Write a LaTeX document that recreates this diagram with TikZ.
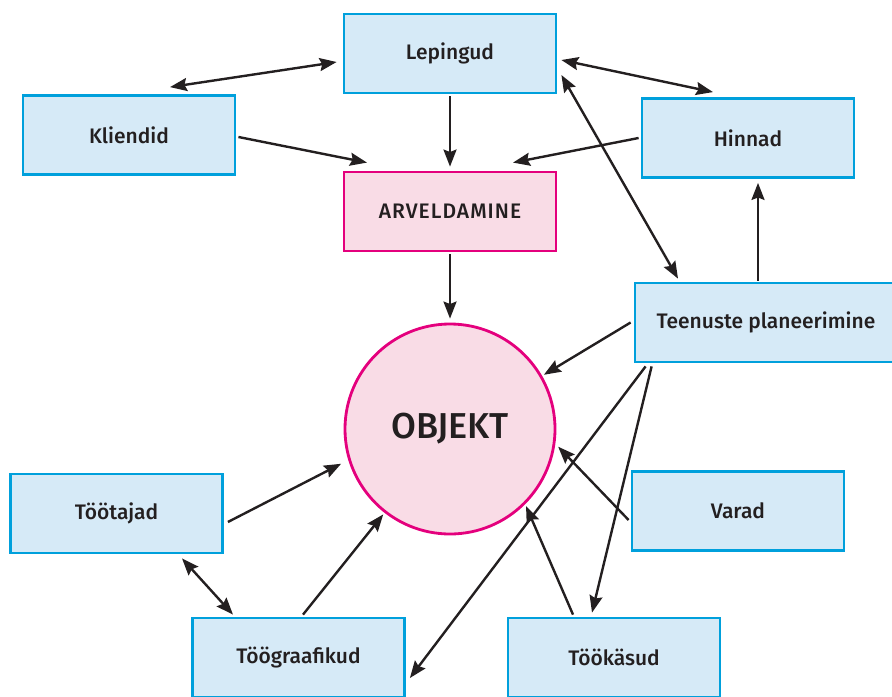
\documentclass[tikz,border=0pt]{standalone}
\usepackage{fontspec}
\setmainfont{Fira Sans}[UprightFont=* Medium]
\usetikzlibrary{arrows.meta,calc}
\definecolor{boxfill}{RGB}{214,234,247}
\definecolor{boxline}{RGB}{0,160,220}
\definecolor{hubfill}{RGB}{249,220,230}
\definecolor{hubline}{RGB}{228,0,125}
\definecolor{ink}{RGB}{35,31,32}
\begin{document}
\begin{tikzpicture}[x=0.5pt,y=0.5pt,yscale=-1,xscale=1,
  box/.style={draw=boxline,fill=boxfill,line width=1.4pt,minimum width=106pt,minimum height=39.5pt,inner sep=0pt,text=ink,font=\fontsize{10.5}{12}\selectfont},
  hub/.style={box,draw=hubline,fill=hubfill},
  tip/.tip={Stealth[length=8.5pt,width=6.5pt,inset=1.2pt]},
  link/.style={draw=ink,line width=1.2pt,-tip},
  both/.style={link,tip-tip}]
\useasboundingbox (0,0) rectangle (892,696);

%Boxes
\node [box] (lepingud) at (450,53.5) {Lepingud};
\node [box] (kliendid) at (129,135) {Kliendid};
\node [box] (hinnad) at (748,138) {Hinnad};
\node [hub] (arveldamine) at (450,211.5) {\addfontfeature{LetterSpace=5}ARVELDAMINE};
\node [box,minimum width=131pt] (teenused) at (766,322.5) {Teenuste planeerimine};
\node [box] (tootajad) at (116.5,513.5) {Töötajad};
\node [box] (varad) at (738,511) {Varad};
\node [box] (toograafikud) at (298.5,657.5) {Töögraafikud};
\node [box] (tookasud) at (614,657.5) {Töökäsud};
%Circle
\node [hub,circle,minimum size=105pt,font=\fontsize{18}{20}\selectfont] (objekt) at (450,429) {OBJEKT};

%Connectors
\draw [both] ($(kliendid.north)+(41,-7)$) -- ($(lepingud.west)+(-6,8.5)$);
\draw [both] ($(lepingud.east)+(4,6.5)$) -- ($(hinnad.north)+(-35,-5)$);
\draw [link] ($(kliendid.east)+(2,2)$) -- ($(arveldamine.north)+(-83,-8)$);
\draw [link] ($(lepingud.south)+(0,2)$) -- ($(arveldamine.north)+(0,-4)$);
\draw [link] ($(hinnad.west)+(-2,0)$) -- ($(arveldamine.north)+(63,-8)$);
\draw [link,shorten >=2pt] ($(arveldamine.south)+(0,2)$) -- (objekt.north);
\draw [both] ($(lepingud.east)+(4,21.5)$) -- ($(teenused.north)+(-88,-3)$);
\draw [link] ($(teenused.north)+(-8,-1)$) -- ($(hinnad.south)+(10,4)$);
\draw [link,shorten >=1pt] ($(teenused.west)+(-3,0)$) -- (objekt.30);
\draw [link] ($(teenused.south west)+(12,3)$) -- ($(toograafikud.east)+(4,20.5)$);
\draw [link] ($(teenused.south west)+(18,3)$) -- ($(tookasud.north)+(-22,-4)$);
\draw [link,shorten >=2pt] ($(varad.west)+(-2,9)$) -- (objekt.-8);
\draw [link,shorten >=1pt] ($(tookasud.north)+(-41,-2)$) -- (objekt.-45);
\draw [link,shorten >=4pt] ($(tootajad.east)+(4,8.5)$) -- (objekt.197);
\draw [both] ($(tootajad.south)+(65.5,4)$) -- ($(toograafikud.north)+(-65.5,-2)$);
\draw [link,shorten >=1pt] ($(toograafikud.north)+(4.5,-2)$) -- (objekt.-128);

\end{tikzpicture}
\end{document}
